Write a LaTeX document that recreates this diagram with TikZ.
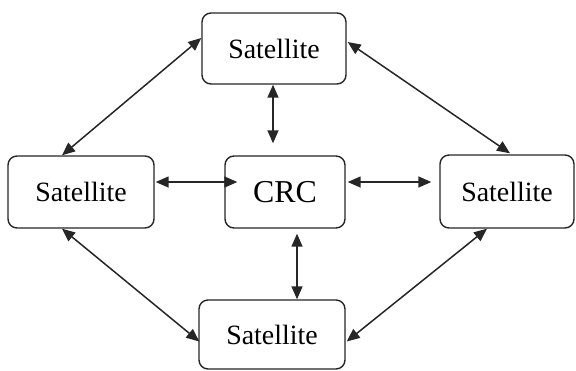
\documentclass[tikz,border=0pt]{standalone}
\usepackage{fontspec}
\setmainfont{Liberation Serif}
\usetikzlibrary{arrows.meta,calc}

\tikzset{
  unit/.style={draw=black!85, line width=1.4bp, rounded corners=9bp, fill=white,
    inner sep=0pt, font=\fontsize{28}{31}\selectfont},
  hub/.style={unit, font=\fontsize{32}{35}\selectfont},
  link/.style={line width=1.5bp, draw=black!85,
    {Triangle[length=13bp,width=11bp]}-{Triangle[length=13bp,width=11bp]}}
}

\begin{document}
\begin{tikzpicture}[x=1bp, y=-1bp]
  \useasboundingbox (0,0) rectangle (576,370);

  % stations
  \node[unit, minimum width=144bp, minimum height=71bp] (top)    at (274,48.5)  {Satellite};
  \node[unit, minimum width=146bp, minimum height=72bp] (left)   at (81,192)    {Satellite};
  \node[hub,  minimum width=120bp, minimum height=72bp] (crc)    at (285,192)   {CRC};
  \node[unit, minimum width=134bp, minimum height=73bp] (right)  at (507,191.5) {Satellite};
  \node[unit, minimum width=146bp, minimum height=69bp] (bottom) at (272,334.5) {Satellite};

  % ring of satellites
  \draw[link] ($(top.west)+(0,-10.5)$)  -- ($(left.north)+(-19,0)$);
  \draw[link] ($(top.east)+(1,-6.5)$)   -- ($(right.north)+(3,-1)$);
  \draw[link] ($(left.south)+(-19,0)$)  -- ($(bottom.west)+(1,7)$);
  \draw[link] ($(right.south)+(-20,0)$) -- ($(bottom.east)+(1,7)$);

  % links to the control centre
  \draw[link] ($(top.south)+(-1,0)$)    -- ($(crc.north)+(-12,-12)$);
  \draw[link] ($(crc.south)+(12,5)$)    -- ($(bottom.north)+(25,0)$);
  \draw[link] ($(left.east)+(1,-10)$)   -- ($(crc.west)+(13,-10)$);
  \draw[link] ($(crc.east)+(2,-10)$)    -- ($(right.west)+(-8,-9.5)$);
\end{tikzpicture}
\end{document}
